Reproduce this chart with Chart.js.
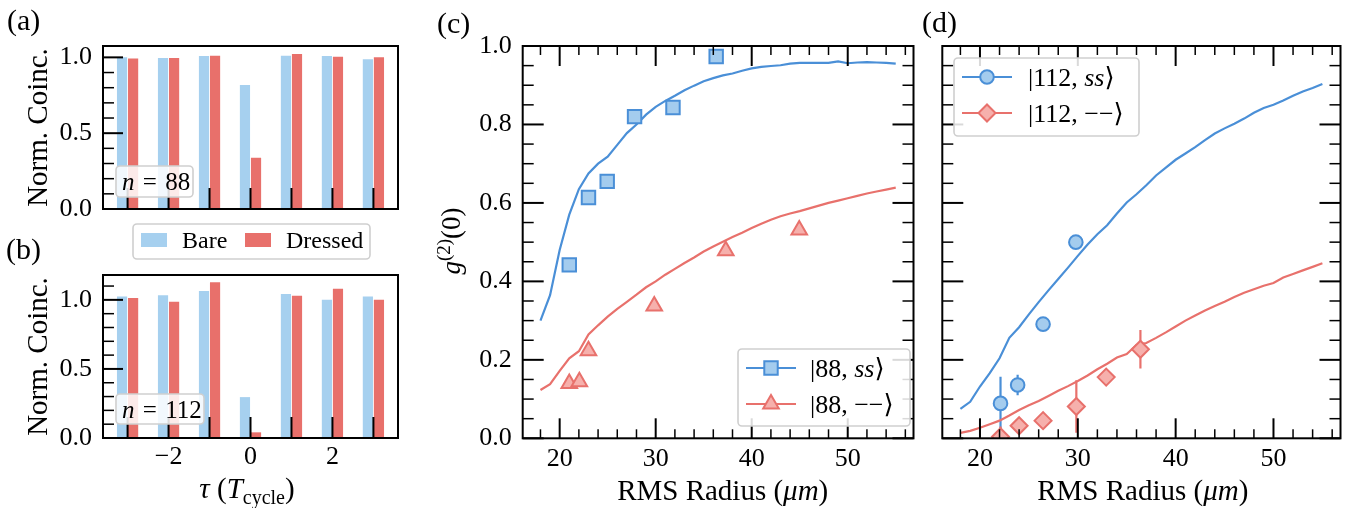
<!DOCTYPE html>
<html>
<head>
<meta charset="utf-8">
<script src="https://cdn.jsdelivr.net/npm/chart.js@4/dist/chart.umd.min.js"></script>
<style>
  html, body { margin: 0; padding: 0; background: #fff; }
  body { width: 1351px; height: 508px; position: relative; overflow: hidden; }
  canvas { position: absolute; }
</style>
</head>
<body>
<canvas id="cA" width="420" height="232" style="left:0;top:0"></canvas>
<canvas id="cB" width="420" height="293" style="left:0;top:215px"></canvas>
<canvas id="cC" width="505" height="508" style="left:420px;top:0"></canvas>
<canvas id="cD" width="436" height="508" style="left:915px;top:0"></canvas>
<script>
// ---------------- data ----------------
const tau = [-3, -2, -1, 0, 1, 2, 3];
const bareN88    = [1.000, 0.996, 1.009, 0.818, 1.011, 1.009, 0.987];
const dressedN88 = [0.993, 0.996, 1.011, 0.338, 1.022, 1.004, 1.000];
const bareN112    = [1.024, 1.034, 1.065, 0.296, 1.043, 1.000, 1.024];
const dressedN112 = [1.014, 0.986, 1.128, 0.041, 1.029, 1.080, 1.000];

const radiusTheory = [18,19,20,21,22,23,24,25,26,27,28,29,30,31,32,33,34,35,36,37,38,39,40,41,42,43,44,45,46,47,48,49,50,51,52,53,54,55];
const theory88ss  = [0.300,0.365,0.480,0.570,0.635,0.675,0.700,0.718,0.748,0.778,0.800,0.825,0.845,0.860,0.873,0.887,0.899,0.910,0.918,0.925,0.930,0.937,0.943,0.947,0.949,0.951,0.955,0.957,0.957,0.957,0.957,0.961,0.956,0.958,0.959,0.958,0.957,0.955];
const theory88mm  = [0.123,0.138,0.172,0.204,0.222,0.265,0.288,0.310,0.330,0.348,0.366,0.385,0.400,0.417,0.432,0.447,0.461,0.476,0.489,0.501,0.513,0.524,0.536,0.547,0.557,0.566,0.573,0.579,0.586,0.593,0.600,0.606,0.612,0.618,0.624,0.629,0.634,0.639];
const theory112ss = [0.075,0.093,0.132,0.166,0.204,0.256,0.283,0.316,0.347,0.377,0.406,0.435,0.465,0.494,0.520,0.543,0.573,0.601,0.622,0.645,0.670,0.690,0.710,0.726,0.742,0.760,0.777,0.790,0.802,0.815,0.830,0.842,0.850,0.861,0.873,0.884,0.893,0.903];
const theory112mm = [0.014,0.019,0.027,0.036,0.045,0.058,0.072,0.084,0.095,0.108,0.121,0.133,0.146,0.160,0.176,0.190,0.206,0.215,0.238,0.243,0.256,0.270,0.285,0.300,0.313,0.326,0.337,0.348,0.360,0.371,0.380,0.389,0.396,0.410,0.419,0.428,0.437,0.446];

const radius88ss = [21.0, 23.0, 24.95, 27.8, 31.8, 36.3];
const g2_88ss    = [0.442, 0.614, 0.655, 0.820, 0.843, 0.973];
const radius88mm = [21.0, 22.05, 23.0, 29.85, 37.3, 44.95];
const g2_88mm    = [0.140, 0.144, 0.223, 0.337, 0.478, 0.531];
const radius112ss = [22.1, 23.85, 26.45, 29.8];
const g2_112ss    = [0.089, 0.136, 0.291, 0.500];
const err112ss    = [0.068, 0.026, 0.0, 0.0];
const radius112mm = [22.1, 24.0, 26.45, 29.85, 32.9, 36.4];
const g2_112mm    = [0.004, 0.032, 0.045, 0.081, 0.156, 0.227];
const err112mm    = [0.026, 0.0, 0.0, 0.067, 0.0, 0.049];

const yTicksBars = [0, 0.5, 1.0];
const xTicksRadius = [20, 30, 40, 50];

// ---------------- style ----------------
const FAM = '"Liberation Serif", "DejaVu Serif", serif';
const BARE = '#A6D0EF', DRESSED = '#E8706B';
const BLUE = '#4A8FD7', BLUE_FILL = '#A4CCEE';
const RED = '#E8716C', RED_FILL = '#F6B0AC';
const TICKSIZE = 26;

Chart.defaults.font.family = FAM;
Chart.defaults.color = '#000';

function segFont(s, size) {
  const sz = (s.sub || s.sup) ? Math.round(size * 0.7) : size;
  return (s.i ? 'italic ' : '') + sz + 'px ' + FAM;
}
function drawRich(ctx, segs, x, y, size, align, rot) {
  ctx.save();
  ctx.translate(x, y);
  if (rot) ctx.rotate(rot);
  ctx.textBaseline = 'alphabetic';
  ctx.textAlign = 'left';
  ctx.fillStyle = '#000';
  let total = 0;
  const parts = segs.map(s => { ctx.font = segFont(s, size); const w = ctx.measureText(s.t).width; total += w; return {s, w}; });
  let cx = align === 'center' ? -total / 2 : 0;
  for (const p of parts) {
    ctx.font = segFont(p.s, size);
    const dy = p.s.sub ? size * 0.22 : (p.s.sup ? -size * 0.38 : 0);
    ctx.fillText(p.s.t, cx, dy);
    cx += p.w;
  }
  ctx.restore();
}
function drawMarker(ctx, style, x, y, r, fill, stroke, bw) {
  ctx.save();
  ctx.fillStyle = fill; ctx.strokeStyle = stroke; ctx.lineWidth = bw;
  ctx.beginPath();
  if (style === 'circle') ctx.arc(x, y, r, 0, 2 * Math.PI);
  else if (style === 'rect') { const s = Math.SQRT1_2 * r; ctx.rect(x - s, y - s, 2 * s, 2 * s); }
  else if (style === 'triangle') {
    ctx.moveTo(x, y - r);
    ctx.lineTo(x + r * Math.sin(2 * Math.PI / 3), y - r * Math.cos(2 * Math.PI / 3));
    ctx.lineTo(x + r * Math.sin(4 * Math.PI / 3), y - r * Math.cos(4 * Math.PI / 3));
    ctx.closePath();
  } else if (style === 'rectRot') {
    ctx.moveTo(x - r, y); ctx.lineTo(x, y - r); ctx.lineTo(x + r, y); ctx.lineTo(x, y + r); ctx.closePath();
  }
  ctx.fill(); ctx.stroke();
  ctx.restore();
}
function roundBox(ctx, x, y, w, h, r) {
  ctx.save();
  ctx.beginPath();
  ctx.roundRect(x, y, w, h, r);
  ctx.fillStyle = 'rgba(255,255,255,0.85)';
  ctx.fill();
  ctx.strokeStyle = '#cfcfcf';
  ctx.lineWidth = 1.6;
  ctx.stroke();
  ctx.restore();
}

const deco = {
  id: 'deco',
  beforeDatasetsDraw(chart, args, o) {
    if (!o.errors) return;
    const ctx = chart.ctx, xs = chart.scales.x, ys = chart.scales.y, ca = chart.chartArea;
    ctx.save();
    ctx.beginPath(); ctx.rect(ca.left, ca.top, ca.right - ca.left, ca.bottom - ca.top); ctx.clip();
    for (const e of o.errors) {
      ctx.strokeStyle = e.color; ctx.lineWidth = 2.2;
      e.x.forEach((xv, i) => {
        if (!e.e[i]) return;
        const px = xs.getPixelForValue(xv);
        ctx.beginPath();
        ctx.moveTo(px, ys.getPixelForValue(e.y[i] - e.e[i]));
        ctx.lineTo(px, ys.getPixelForValue(e.y[i] + e.e[i]));
        ctx.stroke();
      });
    }
    ctx.restore();
  },
  afterDraw(chart, args, o) {
    const ctx = chart.ctx, ca = chart.chartArea;
    ctx.save();
    ctx.strokeStyle = '#000';
    for (const t of (o.ticks || [])) {
      const sc = chart.scales[t.axis];
      ctx.lineWidth = t.w;
      for (const v of t.at) {
        const p = sc.getPixelForValue(v);
        for (const side of t.sides) {
          ctx.beginPath();
          if (side === 'bottom') { ctx.moveTo(p, ca.bottom); ctx.lineTo(p, ca.bottom - t.len); }
          if (side === 'top') { ctx.moveTo(p, ca.top); ctx.lineTo(p, ca.top + t.len); }
          if (side === 'left') { ctx.moveTo(ca.left, p); ctx.lineTo(ca.left + t.len, p); }
          if (side === 'right') { ctx.moveTo(ca.right, p); ctx.lineTo(ca.right - t.len, p); }
          ctx.stroke();
        }
      }
    }
    ctx.lineWidth = 2;
    ctx.strokeRect(ca.left, ca.top, ca.right - ca.left, ca.bottom - ca.top);
    ctx.restore();
    for (const b of (o.boxes || [])) {
      roundBox(ctx, b.box[0], b.box[1], b.box[2], b.box[3], 4);
      drawRich(ctx, b.text, b.tx, b.ty, b.size, 'left');
    }
    if (o.legend) {
      const L = o.legend;
      roundBox(ctx, L.box[0], L.box[1], L.box[2], L.box[3], 4);
      for (const r of L.rows) {
        if (r.line) {
          ctx.save(); ctx.strokeStyle = r.line.color; ctx.lineWidth = 2.2;
          ctx.beginPath(); ctx.moveTo(r.line.x1, r.y); ctx.lineTo(r.line.x2, r.y); ctx.stroke(); ctx.restore();
        }
        if (r.marker) drawMarker(ctx, r.marker.style, r.marker.x, r.y, r.marker.r, r.marker.fill, r.marker.stroke, 2);
        if (r.patch) { ctx.save(); ctx.fillStyle = r.patch.color; ctx.fillRect(r.patch.x, r.y - r.patch.h / 2, r.patch.w, r.patch.h); ctx.restore(); }
        drawRich(ctx, r.text, r.tx, r.y + r.size * 0.33, r.size, 'left');
      }
    }
    for (const t of (o.titles || [])) drawRich(ctx, t.segs, t.x, t.y, t.size, t.align || 'center', t.rot || 0);
  }
};

const minorBars = [0.1, 0.2, 0.3, 0.4, 0.6, 0.7, 0.8, 0.9, 1.1];
const minorRadX = [18, 22, 24, 26, 28, 32, 34, 36, 38, 42, 44, 46, 48, 52, 54, 56];
const majorG2 = [0, 0.2, 0.4, 0.6, 0.8, 1.0];
const minorG2 = [0.05,0.1,0.15,0.25,0.3,0.35,0.45,0.5,0.55,0.65,0.7,0.75,0.85,0.9,0.95];

function fixY(w) { return s => { s.width = w; s.paddingTop = 0; s.paddingBottom = 0; }; }
function fixX(h) { return s => { s.height = h; s.paddingLeft = 0; s.paddingRight = 0; }; }

function barChart(id, bare, dressed, yMax, showX, padTop, xHeight, extra) {
  const common = { borderWidth: 0, categoryPercentage: 0.54, barPercentage: 0.92 };
  return new Chart(document.getElementById(id), {
    type: 'bar',
    data: {
      datasets: [
        Object.assign({ label: 'Bare', data: tau.map((t, i) => ({x: t, y: bare[i]})), backgroundColor: BARE }, common),
        Object.assign({ label: 'Dressed', data: tau.map((t, i) => ({x: t, y: dressed[i]})), backgroundColor: DRESSED }, common)
      ]
    },
    options: {
      animation: false, responsive: false, devicePixelRatio: 1,
      layout: { padding: { top: padTop, right: 22, left: 0, bottom: 0 } },
      plugins: {
        legend: { display: false }, tooltip: { enabled: false },
        deco: Object.assign({
          ticks: [
            { axis: 'y', at: yTicksBars, len: 20, w: 2, sides: ['left'] },
            { axis: 'y', at: minorBars.filter(v => v < yMax), len: 11, w: 1.5, sides: ['left'] },
            { axis: 'x', at: tau, len: 21, w: 2, sides: ['bottom'] }
          ]
        }, extra)
      },
      scales: {
        x: { type: 'linear', min: -3.6, max: 3.6, offset: false,
             grid: { display: false, drawTicks: false, tickLength: 0 }, border: { display: false },
             ticks: { display: showX, stepSize: 2, includeBounds: false, padding: 4, font: { size: TICKSIZE },
                      callback: v => (v < 0 ? '\u2212' + Math.abs(v) : String(v)) },
             afterFit: fixX(xHeight) },
        y: { min: 0, max: yMax,
             grid: { display: false, drawTicks: false, tickLength: 0 }, border: { display: false },
             ticks: { stepSize: 0.5, includeBounds: false, padding: 11, font: { size: TICKSIZE }, callback: v => v.toFixed(1) },
             afterFit: fixY(103) }
      }
    },
    plugins: [deco]
  });
}

const EQ = ' \u200A=\u200A ';

barChart('cA', bareN88, dressedN88, 1.075, false, 46, 23, {
  boxes: [{ box: [116, 166, 77, 31], text: [{t: 'n', i: 1}, {t: EQ + '88'}], tx: 122, ty: 190, size: 25 }],
  titles: [
    { segs: [{t: 'Norm. Coinc.'}], x: 47, y: 127.5, size: 29, rot: -Math.PI / 2 },
    { segs: [{t: '(a)'}], x: 7, y: 30, size: 30, align: 'left' }
  ]
});

barChart('cB', bareN112, dressedN112, 1.18, true, 60, 70, {
  boxes: [{ box: [116, 179, 88, 30], text: [{t: 'n', i: 1}, {t: EQ + '112'}], tx: 122, ty: 203, size: 25 }],
  legend: {
    box: [133, 9, 237, 35],
    rows: [
      { y: 25, patch: { x: 141, w: 26, h: 14, color: BARE }, text: [{t: 'Bare'}], tx: 182, size: 24 },
      { y: 25, patch: { x: 245, w: 26, h: 14, color: DRESSED }, text: [{t: 'Dressed'}], tx: 286, size: 24 }
    ]
  },
  titles: [
    { segs: [{t: 'Norm. Coinc.'}], x: 47, y: 141.5, size: 29, rot: -Math.PI / 2 },
    { segs: [{t: '(b)'}], x: 6, y: 44, size: 30, align: 'left' },
    { segs: [{t: '\u03C4', i: 1}, {t: ' ('}, {t: 'T', i: 1}, {t: 'cycle', sub: 1}, {t: ')'}], x: 247, y: 283, size: 29 }
  ]
});

function g2Chart(id, padLeftW, padRight, showY, lines, points, extra) {
  const datasets = [];
  points.forEach(p => datasets.push({
    label: p.label, data: p.x.map((x, i) => ({x, y: p.y[i]})), showLine: false,
    pointStyle: p.style, pointRadius: p.r, pointBorderWidth: 2,
    pointBackgroundColor: p.fill, pointBorderColor: p.stroke, order: 0, clip: 0
  }));
  lines.forEach(l => datasets.push({
    label: l.label, data: radiusTheory.map((x, i) => ({x, y: l.y[i]})), showLine: true,
    borderColor: l.color, borderWidth: 2.2, pointRadius: 0, tension: 0, order: 1, clip: 0
  }));
  return new Chart(document.getElementById(id), {
    type: 'scatter',
    data: { datasets },
    options: {
      animation: false, responsive: false, devicePixelRatio: 1,
      layout: { padding: { top: 46, right: padRight, left: 0, bottom: 0 } },
      plugins: {
        legend: { display: false }, tooltip: { enabled: false },
        deco: Object.assign({
          ticks: [
            { axis: 'x', at: xTicksRadius, len: 20, w: 2, sides: ['bottom', 'top'] },
            { axis: 'x', at: minorRadX, len: 9, w: 1.5, sides: ['bottom', 'top'] },
            { axis: 'y', at: majorG2, len: 21, w: 2, sides: ['left', 'right'] },
            { axis: 'y', at: minorG2, len: 11, w: 1.5, sides: ['left', 'right'] }
          ]
        }, extra)
      },
      scales: {
        x: { type: 'linear', min: 16.15, max: 56.85,
             grid: { display: false, drawTicks: false, tickLength: 0 }, border: { display: false },
             ticks: { stepSize: 10, includeBounds: false, padding: 5, font: { size: TICKSIZE }, maxRotation: 0 },
             afterFit: fixX(69.7) },
        y: { min: 0, max: 1,
             grid: { display: false, drawTicks: false, tickLength: 0 }, border: { display: false },
             ticks: { display: showY, stepSize: 0.2, includeBounds: false, padding: 11, font: { size: TICKSIZE }, callback: v => v.toFixed(1) },
             afterFit: fixY(padLeftW) }
      }
    },
    plugins: [deco]
  });
}

g2Chart('cC', 102.7, 2.3, true,
  [ { label: 'theory 88 ss', y: theory88ss, color: BLUE }, { label: 'theory 88 --', y: theory88mm, color: RED } ],
  [ { label: '|88, ss>', x: radius88ss, y: g2_88ss, style: 'rect', r: 9.5, fill: BLUE_FILL, stroke: BLUE },
    { label: '|88, -->', x: radius88mm, y: g2_88mm, style: 'triangle', r: 9, fill: RED_FILL, stroke: RED } ],
  {
    legend: {
      box: [318, 349, 172, 77],
      rows: [
        { y: 368, line: { x1: 326, x2: 376, color: BLUE }, marker: { x: 351, style: 'rect', r: 9.5, fill: BLUE_FILL, stroke: BLUE },
          text: [{t: '|88, '}, {t: 'ss', i: 1}, {t: '\u27E9'}], tx: 390, size: 26 },
        { y: 404, line: { x1: 326, x2: 376, color: RED }, marker: { x: 351, style: 'triangle', r: 9, fill: RED_FILL, stroke: RED },
          text: [{t: '|88, \u2212\u2212\u27E9'}], tx: 390, size: 26 }
      ]
    },
    titles: [
      { segs: [{t: 'g', i: 1}, {t: '(2)', sup: 1}, {t: '(0)'}], x: 40, y: 241, size: 27, rot: -Math.PI / 2 },
      { segs: [{t: 'RMS Radius ('}, {t: '\u03BCm', i: 1}, {t: ')'}], x: 302.7, y: 500, size: 29 },
      { segs: [{t: '(c)'}], x: 17, y: 33, size: 30, align: 'left' }
    ]
  });

g2Chart('cD', 27.3, 7.7, false,
  [ { label: 'theory 112 ss', y: theory112ss, color: BLUE }, { label: 'theory 112 --', y: theory112mm, color: RED } ],
  [ { label: '|112, ss>', x: radius112ss, y: g2_112ss, style: 'circle', r: 6.8, fill: BLUE_FILL, stroke: BLUE },
    { label: '|112, -->', x: radius112mm, y: g2_112mm, style: 'rectRot', r: 8.5, fill: RED_FILL, stroke: RED } ],
  {
    errors: [
      { x: radius112ss, y: g2_112ss, e: err112ss, color: BLUE },
      { x: radius112mm, y: g2_112mm, e: err112mm, color: RED }
    ],
    legend: {
      box: [39, 58, 185, 78],
      rows: [
        { y: 77, line: { x1: 47, x2: 97, color: BLUE }, marker: { x: 72, style: 'circle', r: 6.8, fill: BLUE_FILL, stroke: BLUE },
          text: [{t: '|112, '}, {t: 'ss', i: 1}, {t: '\u27E9'}], tx: 113, size: 26 },
        { y: 113, line: { x1: 47, x2: 97, color: RED }, marker: { x: 72, style: 'rectRot', r: 8.5, fill: RED_FILL, stroke: RED },
          text: [{t: '|112, \u2212\u2212\u27E9'}], tx: 113, size: 26 }
      ]
    },
    titles: [
      { segs: [{t: 'RMS Radius ('}, {t: '\u03BCm', i: 1}, {t: ')'}], x: 227.8, y: 500, size: 29 },
      { segs: [{t: '(d)'}], x: 7, y: 32, size: 30, align: 'left' }
    ]
  });
</script>
</body>
</html>
